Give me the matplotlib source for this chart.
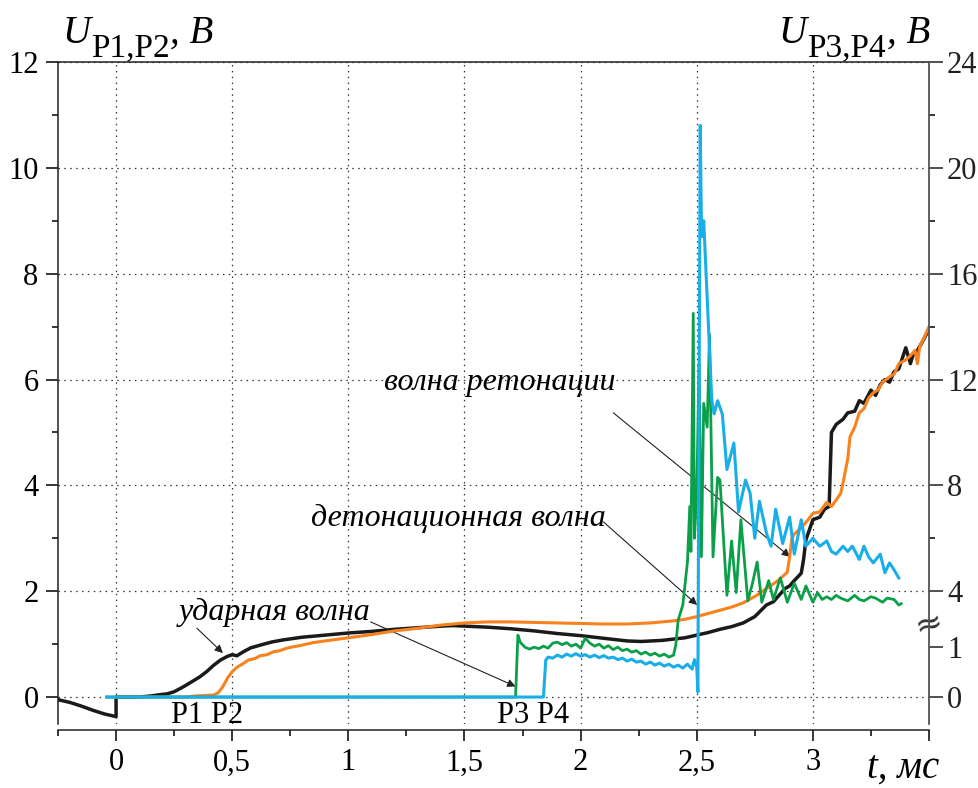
import numpy as np
import matplotlib
matplotlib.use("Agg")
import matplotlib.pyplot as plt
from matplotlib.ticker import FixedLocator, NullFormatter

plt.rcParams['font.family'] = 'serif'
plt.rcParams['font.serif'] = ['Liberation Serif', 'DejaVu Serif']
plt.rcParams['mathtext.fontset'] = 'custom'
plt.rcParams['mathtext.rm'] = 'Liberation Serif'
plt.rcParams['mathtext.it'] = 'Liberation Serif:italic'

# P1 (left axis, V)
t_p1 = [-0.25, -0.2, -0.15, -0.1, -0.05, 0.0, 0.0, 0.05, 0.1, 0.15, 0.18, 0.2, 0.22, 0.25, 0.28,
        0.3, 0.33, 0.36, 0.39, 0.42, 0.45, 0.48, 0.5, 0.52, 0.55, 0.58, 0.62, 0.67, 0.72, 0.8,
        0.9, 1.0, 1.1, 1.2, 1.3, 1.4, 1.45, 1.5, 1.6, 1.7, 1.8, 1.9, 2.0, 2.1, 2.2, 2.26, 2.35,
        2.45, 2.5, 2.55, 2.6, 2.65, 2.7, 2.75, 2.8, 2.83, 2.85, 2.88, 2.9, 2.92, 2.95, 2.96, 2.97,
        3.0, 3.03, 3.05, 3.07, 3.08, 3.1, 3.13, 3.15, 3.18, 3.2, 3.22, 3.25, 3.27, 3.29, 3.31,
        3.33, 3.35, 3.37, 3.4, 3.42, 3.43, 3.45, 3.47, 3.5]
u_p1 = [-0.05, -0.1, -0.17, -0.25, -0.32, -0.37, 0.0, 0.0, 0.0, 0.02, 0.04, 0.05, 0.06, 0.1, 0.17,
        0.22, 0.3, 0.38, 0.48, 0.6, 0.7, 0.77, 0.8, 0.78, 0.86, 0.93, 0.98, 1.04, 1.08, 1.13,
        1.17, 1.21, 1.24, 1.28, 1.31, 1.34, 1.35, 1.34, 1.32, 1.29, 1.25, 1.2, 1.16, 1.11, 1.06,
        1.05, 1.07, 1.12, 1.17, 1.22, 1.28, 1.33, 1.4, 1.52, 1.74, 1.8, 1.9, 2.05, 2.1, 2.2, 2.34,
        2.6, 2.97, 3.35, 3.4, 3.55, 3.6, 5.0, 5.15, 5.25, 5.37, 5.4, 5.6, 5.55, 5.8, 5.7, 5.9,
        6.0, 5.95, 6.15, 6.2, 6.6, 6.3, 6.45, 6.55, 6.7, 6.95]

# P2 (left axis, V)
t_p2 = [0.0, 0.3, 0.34, 0.38, 0.42, 0.44, 0.46, 0.48, 0.5, 0.52, 0.55, 0.57, 0.6, 0.62, 0.65,
        0.68, 0.7, 0.74, 0.8, 0.85, 0.9, 1.0, 1.1, 1.2, 1.3, 1.4, 1.5, 1.6, 1.7, 1.8, 1.9, 2.0,
        2.1, 2.2, 2.3, 2.4, 2.45, 2.5, 2.55, 2.6, 2.65, 2.7, 2.75, 2.8, 2.85, 2.89, 2.9, 2.91,
        2.92, 2.95, 2.97, 3.0, 3.03, 3.06, 3.08, 3.1, 3.12, 3.13, 3.15, 3.16, 3.18, 3.2, 3.22,
        3.24, 3.26, 3.28, 3.3, 3.33, 3.35, 3.37, 3.4, 3.42, 3.44, 3.45, 3.46, 3.48, 3.5]
u_p2 = [0.0, 0.0, 0.02, 0.03, 0.04, 0.08, 0.2, 0.36, 0.48, 0.56, 0.64, 0.7, 0.73, 0.78, 0.8,
        0.86, 0.87, 0.93, 0.98, 1.03, 1.06, 1.12, 1.18, 1.25, 1.3, 1.36, 1.4, 1.42, 1.42, 1.41,
        1.4, 1.39, 1.38, 1.38, 1.4, 1.44, 1.47, 1.52, 1.58, 1.64, 1.7, 1.78, 1.9, 2.05, 2.2,
        2.36, 2.65, 3.0, 3.08, 3.2, 3.3, 3.47, 3.5, 3.68, 3.6, 3.72, 3.85, 4.05, 4.5, 4.92, 5.1,
        5.37, 5.45, 5.65, 5.75, 5.8, 5.95, 6.05, 6.1, 6.3, 6.37, 6.45, 6.55, 6.3, 6.62, 6.8, 7.0]

# P3 (right axis, V)
t_p3 = [-0.04, 1.72, 1.73, 1.74, 1.76, 1.78, 1.8, 1.82, 1.84, 1.86, 1.88, 1.9, 1.92, 1.94, 1.96,
        1.98, 2.0, 2.02, 2.04, 2.06, 2.08, 2.1, 2.12, 2.14, 2.16, 2.18, 2.2, 2.22, 2.24, 2.26,
        2.28, 2.3, 2.32, 2.34, 2.36, 2.38, 2.4, 2.41, 2.42, 2.44, 2.46, 2.47, 2.475, 2.485, 2.49,
        2.5, 2.51, 2.52, 2.53, 2.545, 2.555, 2.57, 2.59, 2.6, 2.63, 2.65, 2.67, 2.69, 2.72, 2.74,
        2.76, 2.78, 2.81, 2.83, 2.86, 2.89, 2.92, 2.95, 2.97, 3.0, 3.02, 3.04, 3.06, 3.08, 3.1,
        3.12, 3.15, 3.18, 3.2, 3.22, 3.25, 3.27, 3.3, 3.32, 3.35, 3.37, 3.38]
u_p3 = [0.0, 0.0, 1.24, 1.1, 1.0, 0.96, 1.0, 0.97, 1.02, 0.98, 1.08, 1.1, 1.05, 1.09, 1.02,
        1.06, 0.98, 1.18, 1.08, 1.02, 1.06, 0.98, 1.03, 0.95, 1.0, 0.93, 0.96, 0.9, 0.93, 0.86,
        0.9, 0.84, 0.88, 0.82, 0.86, 0.8, 0.84, 1.05, 1.9, 3.0, 5.1, 7.2, 5.5, 14.5, 6.0,
        7.6, 12.6, 5.3, 11.1, 10.2, 13.7, 5.3, 8.3, 8.2, 3.7, 5.9, 3.9, 6.7, 3.3, 4.3,
        5.1, 3.2, 4.4, 3.4, 4.5, 3.2, 4.3, 3.4, 4.2, 3.2, 3.9, 3.4, 3.6, 3.4, 3.7,
        3.5, 3.3, 3.7, 3.4, 3.3, 3.6, 3.5, 3.2, 3.5, 3.4, 3.0, 3.1]

# P4 (right axis, V)
t_p4 = [-0.04, 1.84, 1.85, 1.86, 1.88, 1.9, 1.92, 1.94, 1.96, 1.98, 2.0, 2.02, 2.04, 2.06, 2.08,
        2.1, 2.12, 2.14, 2.16, 2.18, 2.2, 2.22, 2.24, 2.26, 2.28, 2.3, 2.32, 2.34, 2.36, 2.38,
        2.4, 2.42, 2.44, 2.46, 2.48, 2.49, 2.5, 2.505, 2.515, 2.52, 2.525, 2.53, 2.565, 2.575,
        2.59, 2.61, 2.63, 2.66, 2.68, 2.71, 2.73, 2.75, 2.77, 2.8, 2.82, 2.84, 2.87, 2.9, 2.92,
        2.95, 2.97, 3.0, 3.03, 3.06, 3.08, 3.1, 3.13, 3.15, 3.17, 3.2, 3.22, 3.24, 3.26, 3.29,
        3.31, 3.33, 3.35, 3.37]
u_p4 = [0.0, 0.0, 0.74, 0.8, 0.78, 0.84, 0.8, 0.86, 0.82, 0.87, 0.82, 0.85, 0.8, 0.84, 0.79,
        0.83, 0.78, 0.8, 0.75, 0.78, 0.72, 0.76, 0.7, 0.72, 0.66, 0.7, 0.64, 0.68, 0.62, 0.66,
        0.6, 0.64, 0.58, 0.66, 0.56, 0.75, 0.6, 0.1, 21.6, 18.0, 17.4, 18.0, 11.2, 10.7,
        11.2, 10.7, 8.6, 9.6, 7.0, 8.2, 7.7, 6.0, 7.4, 6.2, 5.7, 7.1, 5.8, 6.8, 5.4,
        6.7, 5.7, 6.0, 5.7, 5.9, 5.5, 5.4, 5.7, 5.5, 5.7, 5.2, 5.7, 5.3, 5.07, 5.4,
        4.7, 5.07, 4.8, 4.5]

# broken right axis: right volts -> left-axis units
brk_r = [-50, 0, 1.4, 4, 100]
brk_l = [-47.15, 0, 1.32, 2, 50]


def fwd(r):
    return np.interp(r, brk_r, brk_l)


def inv(l):
    return np.interp(l, brk_l, brk_r)


fig = plt.figure(figsize=(9.79, 7.88), dpi=100)
ax = fig.add_axes([58 / 979, 1 - 723.5 / 788, 871 / 979, 661.5 / 788])
ax2 = ax.twinx()
ax2.set_yscale('function', functions=(fwd, inv))

ax.plot(t_p1, u_p1, color='#1a1a1a', lw=2.5, zorder=3)
ax.plot(t_p2, u_p2, color='#f7821e', lw=2.2, zorder=4)
ax2.plot(t_p3, u_p3, color='#0a9f48', lw=2.0)
ax2.plot(t_p4, u_p4, color='#1aaee8', lw=2.2)

ax.set_xlim(-0.25, 3.5)
ax.set_ylim(-0.5, 12)
ax2.set_ylim(inv(-0.5), 24)

# ticks
ax.xaxis.set_major_locator(FixedLocator([0, 0.5, 1, 1.5, 2, 2.5, 3, 3.5]))
ax.set_xticklabels(['0', '0,5', '1', '1,5', '2', '2,5', '3', ''])
ax.xaxis.set_minor_locator(FixedLocator([-0.25, 0.25, 0.75, 1.25, 1.75, 2.25, 2.75, 3.25]))
ax.yaxis.set_major_locator(FixedLocator([0, 2, 4, 6, 8, 10, 12]))
ax.yaxis.set_minor_locator(FixedLocator([1, 3, 5, 7, 9, 11]))
ax2.yaxis.set_major_locator(FixedLocator([0, 1, 4, 8, 12, 16, 20, 24]))
ax2.yaxis.set_minor_locator(FixedLocator([6, 10, 14, 18, 22]))
ax2.yaxis.set_minor_formatter(NullFormatter())
ax2.set_yticklabels(['0', '1', '4', '8', '12', '16', '20', '24'])

ax.tick_params(axis='x', which='major', direction='out', length=8, width=1.1, pad=5, labelsize=22)
ax.tick_params(axis='x', which='minor', direction='out', length=4, width=1.1)
ax.tick_params(axis='y', which='major', direction='out', length=9, width=1.1, pad=5, labelsize=22)
ax.tick_params(axis='y', which='minor', direction='out', length=4, width=1.1)
ax2.tick_params(axis='y', which='major', direction='out', length=10, width=1.1, pad=3,
                labelsize=22, colors='#222222')
ax2.tick_params(axis='y', which='minor', direction='out', length=4, width=1.1)

ax.grid(which='major', color='#333333', lw=0.9, ls=(0, (1.2, 3.5)))

ax.spines['bottom'].set_position(('outward', 5))
for s in ['left', 'top', 'bottom']:
    ax.spines[s].set_linewidth(1.1)
    ax.spines[s].set_color('#222222')
ax2.spines['right'].set_linewidth(1.3)
ax2.spines['right'].set_color('#555555')
ax2.spines['bottom'].set_position(('outward', 5))
for s in ['left', 'top', 'bottom']:
    ax2.spines[s].set_visible(False)
ax.spines['right'].set_visible(False)

# break mark on right axis
ax.text(3.497, 1.38, '≈', fontsize=24, rotation=15, ha='center', va='center',
        family='DejaVu Sans', color='#333333', clip_on=False, zorder=10)

# sensor labels
ax.text(0.236, -0.49, 'P1 P2', fontsize=22, ha='left', va='baseline')
ax.text(1.642, -0.49, 'P3 P4', fontsize=22, ha='left', va='baseline')

# wave annotations
aprops = dict(arrowstyle='-|>', lw=0.8, color='#222222', mutation_scale=12, shrinkA=0, shrinkB=0)
ax.text(0.271, 1.456, 'ударная волна', fontsize=23, style='italic', ha='left', va='baseline')
ax.annotate('', xy=(0.46, 0.83), xytext=(0.348, 1.3), arrowprops=aprops)
ax.annotate('', xy=(1.72, 0.2), xytext=(1.096, 1.42), arrowprops=aprops)
ax.text(0.838, 3.23, 'детонационная волна', fontsize=23, style='italic', ha='left', va='baseline')
ax.annotate('', xy=(2.502, 1.74), xytext=(2.098, 3.31), arrowprops=aprops)
ax.text(1.152, 5.8, 'волна ретонации', fontsize=23, style='italic', ha='left', va='baseline')
ax.annotate('', xy=(2.902, 2.65), xytext=(2.141, 5.37), arrowprops=aprops)

# axis titles: U (italic), subscript, ", В" chained one after another
u1 = fig.text(62 / 979, 1 - 52 / 788, 'U', fontsize=28, style='italic', ha='left', va='bottom')
s1 = fig.add_artist(plt.Annotation('P1,P2', xy=(1, 0), xycoords=u1, xytext=(1, -11),
                                   textcoords='offset pixels', fontsize=24, ha='left', va='bottom',
                                   annotation_clip=False))
fig.add_artist(plt.Annotation(', В', xy=(1, 0), xycoords=s1, xytext=(0, 11),
                              textcoords='offset pixels', fontsize=28, style='italic',
                              ha='left', va='bottom', annotation_clip=False))

b2 = fig.text(930 / 979, 1 - 52 / 788, ', В', fontsize=28, style='italic', ha='right', va='bottom')
s2 = fig.add_artist(plt.Annotation('P3,P4', xy=(0, 0), xycoords=b2, xytext=(-1, -11),
                                   textcoords='offset pixels', fontsize=24, ha='right', va='bottom',
                                   annotation_clip=False))
fig.add_artist(plt.Annotation('U', xy=(0, 0), xycoords=s2, xytext=(-1, 11),
                              textcoords='offset pixels', fontsize=28, style='italic',
                              ha='right', va='bottom', annotation_clip=False))

fig.text(867 / 979, 1 - 778 / 788, 't, мс', fontsize=28, style='italic', ha='left', va='baseline')

fig.savefig('out.png', dpi=100)
